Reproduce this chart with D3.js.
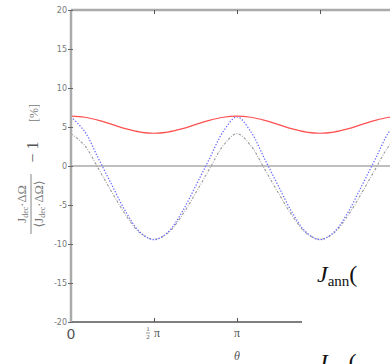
<!DOCTYPE html>
<html>
<head>
<meta charset="utf-8">
<script src="https://cdn.jsdelivr.net/npm/d3@7"></script>
<style>
  body { margin: 0; background: #fff; }
  svg { display: block; }
</style>
</head>
<body>
<script>
// angle in degrees, 0 .. 360 (step 15)
var thetaDeg = [0, 15, 30, 45, 60, 75, 90, 105, 120, 135, 150, 165, 180,
                195, 210, 225, 240, 255, 270, 285, 300, 315, 330, 345, 360]

// red solid curve
var serieRoja = [6.4, 6.25, 5.85, 5.3, 4.75, 4.35, 4.2, 4.35, 4.75, 5.3, 5.85, 6.25, 6.4,
                 6.25, 5.85, 5.3, 4.75, 4.35, 4.2, 4.35, 4.75, 5.3, 5.85, 6.25, 6.4]
// blue dotted curve
var serieAzul = [6.3, 4.4, 0.9, -2.6, -6.0, -8.5, -9.45, -8.5, -6.0, -2.6, 0.9, 4.4, 6.3,
                 4.4, 0.9, -2.6, -6.0, -8.5, -9.45, -8.5, -6.0, -2.6, 0.9, 4.4, 6.3]
// grey dash-dot curve
var serieGris = [4.15, 2.6, -0.4, -3.5, -6.4, -8.6, -9.4, -8.6, -6.4, -3.5, -0.4, 2.6, 4.15,
                 2.6, -0.4, -3.5, -6.4, -8.6, -9.4, -8.6, -6.4, -3.5, -0.4, 2.6, 4.15]

var ticksY = [20, 15, 10, 5, 0, -5, -10, -15, -20]
var ticksXArriba = [90, 180, 270]
var ticksXAbajo = [90, 180]

var width = 390
var height = 364

var margin = { top: 10, left: 71, bottom: 42 }

var escalaX = d3.scaleLinear()
    .domain([0, 360])
    .range([margin.left, margin.left + 332])

var escalaY = d3.scaleLinear()
    .domain([-20, 20])
    .range([height - margin.bottom, margin.top])

var svg = d3.select("body")
    .append("svg")
    .attr("width", width)
    .attr("height", height)

// zero line
svg.append("line")
    .attr("x1", escalaX(0)).attr("x2", width)
    .attr("y1", escalaY(0)).attr("y2", escalaY(0))
    .attr("stroke", "#aaa").attr("stroke-width", 1.5)

// curves
var linea = function (serie) {
    return d3.line()
        .x((d, i) => escalaX(thetaDeg[i]))
        .y(d => escalaY(d))
        .curve(d3.curveCatmullRom)(serie)
}

svg.append("path")
    .attr("d", linea(serieGris))
    .attr("fill", "none").attr("stroke", "#999").attr("stroke-width", 1.1)
    .attr("stroke-dasharray", "2.5,1.5,0.8,1.5")

svg.append("path")
    .attr("d", linea(serieAzul))
    .attr("fill", "none").attr("stroke", "#6a6aff").attr("stroke-width", 1.3)
    .attr("stroke-dasharray", "1.3,1.7")

svg.append("path")
    .attr("d", linea(serieRoja))
    .attr("fill", "none").attr("stroke", "#ff5050").attr("stroke-width", 1.2)

// top frame line
svg.append("line")
    .attr("x1", escalaX(0)).attr("x2", width)
    .attr("y1", escalaY(20)).attr("y2", escalaY(20))
    .attr("stroke", "#aaa").attr("stroke-width", 2.5)

svg.append("g")
    .attr("transform", "translate(0," + escalaY(20) + ")")
    .call(d3.axisBottom(escalaX).tickValues(ticksXArriba).tickSize(4).tickFormat(""))
    .call(g => g.select(".domain").remove())
    .selectAll("line").attr("stroke", "#555")

// bottom axis line (hidden to the right by the white box)
svg.append("line")
    .attr("x1", escalaX(0)).attr("x2", 302)
    .attr("y1", escalaY(-20)).attr("y2", escalaY(-20))
    .attr("stroke", "#555").attr("stroke-width", 1.5)

svg.append("g")
    .attr("transform", "translate(0," + escalaY(-20) + ")")
    .call(d3.axisTop(escalaX).tickValues(ticksXAbajo).tickSize(4).tickFormat(""))
    .call(g => g.select(".domain").remove())
    .selectAll("line").attr("stroke", "#555")

// left axis
svg.append("line")
    .attr("x1", escalaX(0)).attr("x2", escalaX(0))
    .attr("y1", escalaY(20)).attr("y2", escalaY(-20))
    .attr("stroke", "#aaa").attr("stroke-width", 2.5)

var ejeY = svg.append("g")
    .attr("transform", "translate(" + (escalaX(0) + 2) + ",0)")
    .call(d3.axisLeft(escalaY).tickValues(ticksY).tickSize(5).tickPadding(1).tickFormat(d => String(d)))
ejeY.select(".domain").remove()
ejeY.selectAll("line").attr("stroke", "#666")
ejeY.selectAll("text")
    .attr("fill", "#777")
    .style("font-family", "DejaVu Sans, sans-serif")
    .style("font-size", "8px")

// x labels
var serif = "Liberation Serif, DejaVu Serif, serif"

svg.append("text")
    .attr("x", escalaX(0)).attr("y", 339)
    .attr("text-anchor", "middle")
    .style("font-family", "DejaVu Sans, sans-serif").style("font-size", "14px")
    .attr("fill", "#555")
    .text("0")

var medio = svg.append("g").attr("transform", "translate(" + escalaX(90) + ",0)")
medio.append("text").attr("x", -6).attr("y", 331).attr("text-anchor", "middle")
    .style("font-family", serif).style("font-size", "7px").attr("fill", "#555").text("1")
medio.append("line").attr("x1", -8).attr("x2", -4).attr("y1", 333).attr("y2", 333)
    .attr("stroke", "#555").attr("stroke-width", 0.6)
medio.append("text").attr("x", -6).attr("y", 339).attr("text-anchor", "middle")
    .style("font-family", serif).style("font-size", "7px").attr("fill", "#555").text("2")
medio.append("text").attr("x", 3).attr("y", 337).attr("text-anchor", "middle")
    .style("font-family", serif).style("font-size", "12px").attr("fill", "#555").text("π")

svg.append("text")
    .attr("x", escalaX(180)).attr("y", 337)
    .attr("text-anchor", "middle")
    .style("font-family", serif).style("font-size", "12px").attr("fill", "#555")
    .text("π")

svg.append("text")
    .attr("x", escalaX(180)).attr("y", 360)
    .attr("text-anchor", "middle")
    .style("font-family", serif).style("font-size", "12px").style("font-style", "italic")
    .attr("fill", "#555")
    .text("θ")

// y label (rotated)
var etiqueta = svg.append("g").attr("transform", "rotate(-90)")
var gris = "#777"

var num = etiqueta.append("text")
    .attr("x", -204).attr("y", 26).attr("text-anchor", "middle")
    .style("font-family", serif).style("font-size", "12.5px").attr("fill", gris)
num.append("tspan").text("J")
num.append("tspan").attr("dy", 2).style("font-size", "8px").text("dec")
num.append("tspan").attr("dy", -2).text("·ΔΩ")

etiqueta.append("line")
    .attr("x1", -234).attr("x2", -174).attr("y1", 31).attr("y2", 31)
    .attr("stroke", gris).attr("stroke-width", 0.9)

var den = etiqueta.append("text")
    .attr("x", -204).attr("y", 43).attr("text-anchor", "middle")
    .style("font-family", serif).style("font-size", "12.5px").attr("fill", gris)
den.append("tspan").text("⟨J")
den.append("tspan").attr("dy", 2).style("font-size", "8px").text("dec")
den.append("tspan").attr("dy", -2).text("·ΔΩ⟩")

etiqueta.append("text")
    .attr("x", -152).attr("y", 38).attr("text-anchor", "middle")
    .style("font-family", serif).style("font-size", "16px").attr("fill", "#555")
    .text("− 1")

etiqueta.append("text")
    .attr("x", -113).attr("y", 38).attr("text-anchor", "middle")
    .style("font-family", serif).style("font-size", "12px").attr("fill", gris)
    .text("[%]")

// white box with the neighbouring panel text
svg.append("rect")
    .attr("x", 302).attr("y", 252).attr("width", 88).attr("height", 112)
    .attr("fill", "#fff")

var jann = svg.append("text")
    .attr("x", 317).attr("y", 282)
    .style("font-family", serif).style("font-size", "24px").attr("fill", "#111")
jann.append("tspan").style("font-style", "italic").text("J")
jann.append("tspan").attr("dy", 4).style("font-size", "15px").text("ann")
jann.append("tspan").attr("dy", -4).text("(")

var jdec = svg.append("text")
    .attr("x", 317).attr("y", 370)
    .style("font-family", serif).style("font-size", "24px").attr("fill", "#111")
jdec.append("tspan").style("font-style", "italic").text("J")
jdec.append("tspan").attr("dy", 4).style("font-size", "15px").text("dec")
jdec.append("tspan").attr("dy", -4).text("(")
</script>
</body>
</html>
